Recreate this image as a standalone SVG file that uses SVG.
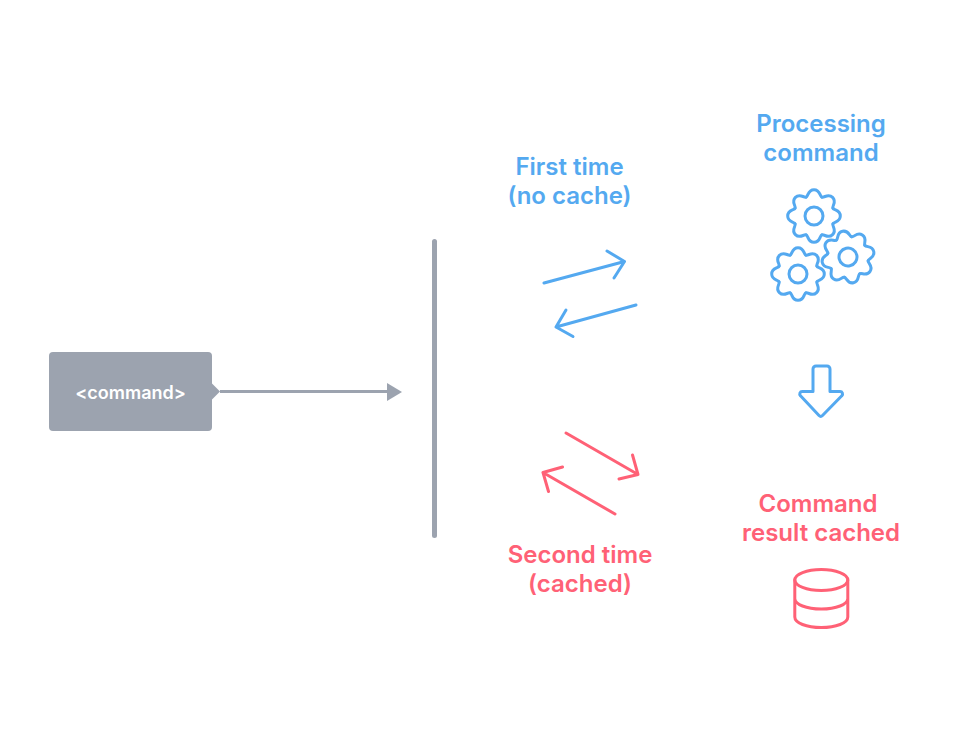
<svg xmlns="http://www.w3.org/2000/svg" width="980" height="748" viewBox="0 0 980 748">
<style>
text{font-family:Inter,"Liberation Sans",sans-serif;font-weight:600;text-anchor:middle}
.l{font-size:24px}
.b{fill:#54A9F0}
.r{fill:#FF6176}
.sb{fill:none;stroke:#54A9F0;stroke-width:3;stroke-linecap:round;stroke-linejoin:round}
.sr{fill:none;stroke:#FF6176;stroke-width:3;stroke-linecap:round;stroke-linejoin:round}
</style>
<defs>
<path id="t" d="M-7.85-18.94C-5.4-19.9-6.4-26.300 0-26.300S5.400-19.900 7.85-18.94"/>
<g id="gear">
<use href="#t"/><use href="#t" transform="rotate(45)"/><use href="#t" transform="rotate(90)"/><use href="#t" transform="rotate(135)"/><use href="#t" transform="rotate(180)"/><use href="#t" transform="rotate(225)"/><use href="#t" transform="rotate(270)"/><use href="#t" transform="rotate(315)"/>
<circle r="9"/>
</g>
</defs>
<rect width="980" height="748" fill="#fff"/>
<g id="connectors">
<path d="M220 391.500H388" fill="none" stroke="#9CA3AF" stroke-width="3"/>
<path d="M387 383L402 392L387 401Z" fill="#9CA3AF"/>
<path class="sb" d="M544 283L624.500 261.500M607 251L624.500 261.500L614 278"/>
<path class="sb" d="M636 305L556 327M566 310L556 327L573 336.500"/>
<path class="sr" d="M566 433L638 474.500M632.500 455L638 474.500L619 479"/>
<path class="sr" d="M615 514L543 472.500M562.500 467L543 472.500L548.500 491.500"/>
</g>
<g id="command">
<rect x="49" y="352" width="163" height="79" rx="4" fill="#9CA3AF"/>
<path d="M212 383.500L220 391.500L212 399.500Z" fill="#9CA3AF"/>
<text x="130.500" y="399" font-size="18" fill="#fff">&lt;command&gt;</text>
</g>
<g id="bar"><path d="M434.500 241.500V535.500" stroke="#9CA3AF" stroke-width="5" stroke-linecap="round"/></g>
<g id="first-time"><text class="l b" x="569.500" y="175">First time</text><text class="l b" x="569.500" y="204">(no cache)</text></g>
<g id="second-time"><text class="l r" x="580" y="563">Second time</text><text class="l r" x="580" y="592">(cached)</text></g>
<g id="processing"><text class="l b" x="821" y="132">Processing</text><text class="l b" x="821" y="161">command</text></g>
<g id="cached"><text class="l r" x="818" y="512">Command</text><text class="l r" x="821" y="541">result cached</text></g>
<g id="gears" class="sb">
<use href="#gear" transform="translate(814 216)"/>
<use href="#gear" transform="translate(848 257) rotate(-12)"/>
<use href="#gear" transform="translate(798 274)"/>
</g>
<g id="down-arrow"><path class="sb" d="M813 391.500V369a3 3 0 0 1 3-3H827a3 3 0 0 1 3 3V391.500H840a2.500 2.500 0 0 1 1.800 4.300L822.500 415.500a2.500 2.500 0 0 1-3.500 0L800.500 395.800a2.500 2.500 0 0 1 1.800-4.300Z"/></g>
<g id="database" class="sr">
<ellipse cx="821.300" cy="580" rx="26.500" ry="10.500"/>
<path d="M794.800 580V617C794.800 623 806.500 627.500 821.300 627.500S847.800 623 847.800 617V580M794.800 598.500C794.800 604.500 806.500 609 821.300 609S847.800 604.500 847.800 598.500"/>
</g>
</svg>
